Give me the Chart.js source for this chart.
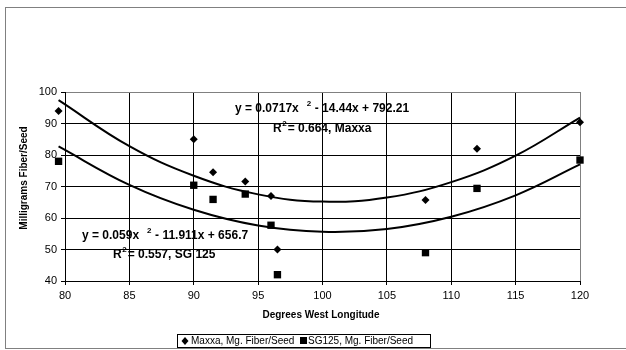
<!DOCTYPE html>
<html>
<head>
<meta charset="utf-8">
<script src="https://cdn.jsdelivr.net/npm/chart.js@4/dist/chart.umd.min.js"></script>
<style>
  body { margin: 0; background: #fff; }
  canvas { display: block; }
</style>
</head>
<body>
<canvas id="chart" width="626" height="350"></canvas>
<script>
// longitude (deg W) of each sample site
const longitudes = [79.5, 90, 91.5, 94, 96, 96.5, 108, 112, 120];
const maxxaFiber = [94, 85, 74.5, 71.6, 67, 50, 65.7, 82, 90.4];
const sg125Fiber = [78, 70.4, 65.9, 67.6, 57.7, 42, 49, 69.4, 78.4];

// trendline curves
const trendX = [79.5, 85, 90, 95, 100, 105, 110, 115, 120];
const maxxaTrend = [97.4, 82.8, 73.4, 67.5, 65.2, 66.5, 71.4, 79.8, 91.9];
const sg125Trend = [82.7, 70.5, 62.6, 57.6, 55.6, 56.5, 60.4, 67.2, 77.0];

const xTicks = [80, 85, 90, 95, 100, 105, 110, 115, 120];
const yTicks = [40, 50, 60, 70, 80, 90, 100];

const legendLabels = ['Maxxa, Mg. Fiber/Seed', 'SG125, Mg. Fiber/Seed'];

const pts = (xs, ys) => xs.map((x, i) => ({ x, y: ys[i] }));
const FONT = "'Liberation Sans', Arial, sans-serif";

// frame, axis titles, equations and legend box
const extras = {
  id: 'extras',
  beforeDraw(chart) {
    const c = chart.ctx;
    c.save();
    c.strokeStyle = '#808080';
    c.lineWidth = 1;
    c.strokeRect(5.5, 7.5, 700, 341);
    c.restore();
  },
  afterDraw(chart) {
    const c = chart.ctx;
    c.save();
    c.fillStyle = '#000';

    // axis titles
    c.font = 'bold 10px ' + FONT;
    c.textAlign = 'center';
    c.textBaseline = 'middle';
    c.fillText('Degrees West Longitude', 321, 315);
    c.save();
    c.translate(24, 178);
    c.rotate(-Math.PI / 2);
    c.fillText('Milligrams Fiber/Seed', 0, 0);
    c.restore();

    // trendline equations
    c.textAlign = 'left';
    const eq = (x, y, a, b) => {
      c.font = 'bold 12px ' + FONT;
      c.fillText(a, x, y);
      let w = c.measureText(a).width;
      c.font = 'bold 8px ' + FONT;
      c.fillText('2', x + w + 8, y - 5);
      c.font = 'bold 12px ' + FONT;
      c.fillText(b, x + w + 16, y);
    };
    eq(235, 109, 'y = 0.0717x', '- 14.44x + 792.21');
    eq(82, 236, 'y = 0.059x', '- 11.911x + 656.7');
    const r2 = (x, y, rest) => {
      c.font = 'bold 12px ' + FONT;
      c.fillText('R', x, y);
      const w = c.measureText('R').width;
      c.font = 'bold 8px ' + FONT;
      c.fillText('2', x + w + 0.5, y - 5);
      c.font = 'bold 12px ' + FONT;
      c.fillText(rest, x + w + 6, y);
    };
    r2(273, 129, '= 0.664, Maxxa');
    r2(113, 255, '= 0.557, SG 125');

    // legend
    c.strokeStyle = '#000';
    c.lineWidth = 1;
    c.strokeRect(177.5, 334.5, 253, 13);
    c.font = '10px ' + FONT;
    c.textBaseline = 'middle';
    c.beginPath();
    c.moveTo(185, 337); c.lineTo(188.5, 341); c.lineTo(185, 345); c.lineTo(181.5, 341);
    c.closePath();
    c.fill();
    c.fillText(legendLabels[0], 191, 341.5);
    c.fillRect(300, 337, 7, 7);
    c.fillText(legendLabels[1], 308, 341.5);
    c.restore();
  }
};

const gridColor = edge => ctx => (ctx.tick && ctx.tick.value === edge ? '#808080' : '#000');

new Chart(document.getElementById('chart'), {
  type: 'scatter',
  data: {
    datasets: [
      {
        label: 'Maxxa trend',
        data: pts(trendX, maxxaTrend),
        showLine: true,
        borderColor: '#000',
        borderWidth: 2,
        pointRadius: 0,
        pointHoverRadius: 0,
        tension: 0.4,
        clip: false,
      },
      {
        label: 'SG125 trend',
        data: pts(trendX, sg125Trend),
        showLine: true,
        borderColor: '#000',
        borderWidth: 2,
        pointRadius: 0,
        pointHoverRadius: 0,
        tension: 0.4,
        clip: false,
      },
      {
        label: legendLabels[0],
        data: pts(longitudes, maxxaFiber),
        pointStyle: 'rectRot',
        pointRadius: 4,
        // larger hover radius keeps the 79.5 point (left of the axis) drawn
        pointHoverRadius: 14,
        backgroundColor: '#000',
        borderColor: '#000',
        borderWidth: 0,
        clip: false,
      },
      {
        label: legendLabels[1],
        data: pts(longitudes, sg125Fiber),
        pointStyle: 'rect',
        pointRadius: 5.2,
        pointHoverRadius: 14,
        backgroundColor: '#000',
        borderColor: '#000',
        borderWidth: 0,
        clip: false,
      },
    ]
  },
  options: {
    responsive: false,
    animation: false,
    events: [],
    layout: { padding: { left: 0, top: 92, right: 46, bottom: 0 } },
    scales: {
      x: {
        type: 'linear',
        min: 80,
        max: 120,
        afterFit: s => { s.height = 69; },
        afterBuildTicks: s => { s.ticks = xTicks.map(v => ({ value: v })); },
        ticks: { color: '#000', font: { family: FONT, size: 11 }, padding: 4, maxRotation: 0 },
        grid: { color: gridColor(120), tickColor: '#000', tickLength: 4, lineWidth: 1 },
        border: { color: '#000', width: 1 },
      },
      y: {
        min: 40,
        max: 100,
        afterFit: s => { s.width = 65; },
        afterBuildTicks: s => { s.ticks = yTicks.map(v => ({ value: v })); },
        ticks: { color: '#000', font: { family: FONT, size: 11 }, padding: 4 },
        grid: { color: gridColor(100), tickColor: '#000', tickLength: 4, lineWidth: 1 },
        border: { color: '#000', width: 1 },
      },
    },
    plugins: {
      legend: { display: false },
      tooltip: { enabled: false },
    }
  },
  plugins: [extras]
});
</script>
</body>
</html>
